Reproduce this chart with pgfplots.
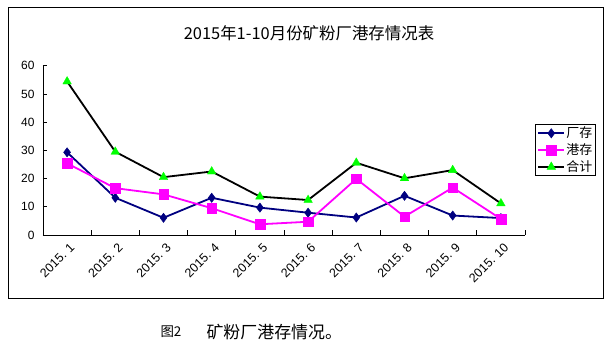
\documentclass[border=0pt]{standalone}
\usepackage{pgfplots}
\pgfplotsset{compat=1.18}
\usepackage{fontspec}
\setmainfont{Liberation Sans}
\newfontfamily\cjk{Noto Sans CJK SC}
\definecolor{navy}{HTML}{000080}
\definecolor{mag}{HTML}{FF00FF}
\definecolor{grn}{HTML}{00FF00}
\begin{document}
\begin{tikzpicture}
\useasboundingbox (0,0) rectangle (614bp,351bp);
\draw[line width=1bp] (8bp,52bp) rectangle (603bp,343bp);
\node[font=\cjk\fontsize{16.5}{20}\selectfont] at (309bp,318bp) {2015年1-10月份矿粉厂港存情况表};
\node[anchor=west, font=\cjk\fontsize{13.5}{15}\selectfont] at (157bp,19bp) {图2};
\node[anchor=west, font=\cjk\fontsize{17}{20}\selectfont] at (203bp,19bp) {矿粉厂港存情况。};
\begin{axis}[
  at={(43bp,116bp)}, anchor=south west, scale only axis,
  width=482bp, height=169.3bp,
  xmin=0.5, xmax=10.5, ymin=0, ymax=60,
  axis lines=left, axis line style={-, line width=0.9bp},
  tick align=inside,
  xtick={1,...,10},
  xticklabels={2015. 1,2015. 2,2015. 3,2015. 4,2015. 5,2015. 6,2015. 7,2015. 8,2015. 9,2015. 10},
  major x tick style={draw=none},
  minor xtick={0.5,1.5,...,10.5},
  minor tick length=4.5bp, major tick length=4.5bp,
  every tick/.style={black, line width=0.8bp},
  ytick={0,10,...,60},
  yticklabel style={font=\fontsize{12}{14}\selectfont, anchor=east, xshift=-5bp},
  xticklabel style={font=\fontsize{12.5}{14}\selectfont, rotate=45, anchor=north east, xshift=0bp, yshift=-3bp},
  /pgf/number format/assume math mode=true,
  legend style={at={(1.0207,0.6556)}, anchor=north west, draw=black, line width=0.8bp,
    font=\cjk\fontsize{13}{15}\selectfont, inner xsep=2bp, inner ysep=1.5bp,
    nodes={inner sep=1.2bp}, row sep=2bp},
  legend cell align=left,
  legend image code/.code={\draw[mark repeat=2,mark phase=2] plot coordinates {(0bp,0bp)(13bp,0bp)(26bp,0bp)};},
]
\addplot[navy, line width=1.8bp, mark=diamond*, mark size=4.6bp, mark options={solid, fill=navy, line width=0.5bp}]
  coordinates {(1,29.3)(2,13.2)(3,6.1)(4,13.2)(5,9.7)(6,7.9)(7,6.2)(8,13.9)(9,6.9)(10,6.0)};
\addlegendentry{厂存}
\addplot[mag, line width=1.8bp, mark=square*, mark size=4.8bp, mark options={solid, fill=mag, line width=0.3bp}]
  coordinates {(1,25.4)(2,16.6)(3,14.4)(4,9.5)(5,3.8)(6,4.7)(7,19.9)(8,6.5)(9,16.8)(10,5.7)};
\addlegendentry{港存}
\addplot[black, line width=1.8bp, mark=triangle*, mark size=5bp, mark options={solid, fill=grn, draw=grn, line width=0.3bp}]
  coordinates {(1,54.4)(2,29.5)(3,20.5)(4,22.5)(5,13.6)(6,12.4)(7,25.6)(8,20.1)(9,23.0)(10,11.2)};
\addlegendentry{合计}
\end{axis}
\end{tikzpicture}
\end{document}
